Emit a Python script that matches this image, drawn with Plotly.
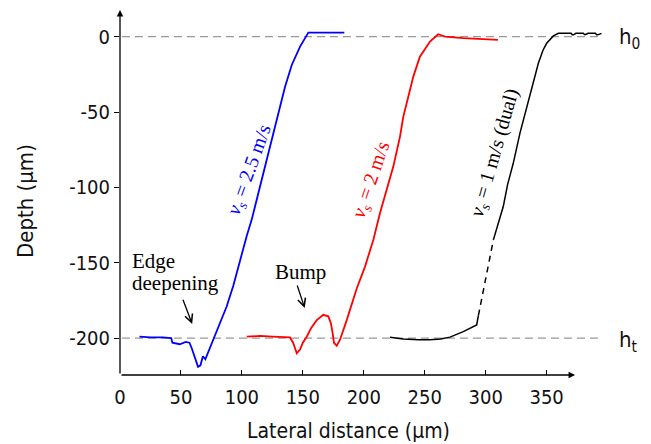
import plotly.graph_objects as go

# ---------------- data ----------------
blue_x = [16, 25, 35, 42, 43, 49, 54, 57, 59, 62, 64, 66, 68, 70, 72.5, 76.5, 82, 87.5, 93,
          98.4, 104, 108, 110.7, 117.6, 124.4, 131.3, 135.4, 140.9, 147.7, 154.5, 184]
blue_y = [-199, -199.5, -199.5, -200, -203, -204, -202.5, -203, -207, -214, -219, -218, -212,
          -214, -209, -200, -190, -179, -165, -148, -132, -121.5, -112.7, -90.4, -68.5, -46.4,
          -33.2, -18.8, -6.6, 2.7, 2.7]

red_x = [104, 115, 125, 139.5, 142, 145, 147.7, 150, 153.2, 157, 161.4, 166.8, 170.9, 173,
         174.5, 175.5, 177.8, 180.5, 186, 190, 194.2, 201, 207.8, 213.3, 218.8, 224.2, 229.7,
         232.4, 236.5, 240.6, 246, 254.3, 261, 266.6, 281.6, 295, 310]
red_y = [-199, -198.5, -199, -199.5, -203, -210, -207.5, -203, -199, -193, -188, -184.5,
         -185.5, -190, -197, -203, -205, -201, -188, -178, -167, -152.5, -134.8, -117, -101.7,
         -86.2, -66.3, -53, -39.8, -26.5, -13.3, -3.3, 1.6, 0, -1, -1.8, -2.2]

black_low_x = [221.5, 232.4, 245, 254.3, 263, 270.7, 281.6, 292.6, 294]
black_low_y = [-199.3, -200.5, -201, -201, -200.5, -199.3, -195.6, -191.2, -185]
black_gap_x = [294, 306.3]
black_gap_y = [-185, -134.8]
black_up_x = [306.3, 310, 314.4, 318, 322.6, 328.1, 333.6, 337.7, 343.2, 347, 350, 355.5,
              359.6, 370, 371, 372, 374, 380, 381, 382, 384, 390, 391, 392, 395]
black_up_y = [-134.8, -124, -112.7, -98, -84, -64, -46.4, -33.2, -17.6, -9, -4.4, 0.5,
              2.2, 2.2, 1.2, 1.2, 2.2, 2.2, 1.4, 1.4, 2.2, 2.2, 1.2, 1.2, 2.2]

x_ticks = [0, 50, 100, 150, 200, 250, 300, 350]
x_tick_text = ["0", "50", "100", "150", "200", "250", "300", "350"]
y_ticks = [-200, -150, -100, -50, 0]
y_tick_text = ["-200", "-150", "-100", "-50", "0"]
h0_level = 0
ht_level = -200

# ---------------- figure ----------------
SANS = "DejaVu Sans Condensed, DejaVu Sans, sans-serif"
SERIF = "Liberation Serif, Times New Roman, serif"
INK = "#111111"

fig = go.Figure()
fig.add_trace(go.Scatter(x=blue_x, y=blue_y, mode="lines",
                         line=dict(color="#0000ff", width=1.8)))
fig.add_trace(go.Scatter(x=red_x, y=red_y, mode="lines",
                         line=dict(color="#ff0000", width=1.8)))
fig.add_trace(go.Scatter(x=black_low_x, y=black_low_y, mode="lines",
                         line=dict(color="#000000", width=1.5)))
fig.add_trace(go.Scatter(x=black_gap_x, y=black_gap_y, mode="lines",
                         line=dict(color="#000000", width=1.5, dash="6px,5px")))
fig.add_trace(go.Scatter(x=black_up_x, y=black_up_y, mode="lines",
                         line=dict(color="#000000", width=1.5)))

# reference levels
for lvl in (h0_level, ht_level):
    fig.add_shape(type="line", x0=1.6, x1=394, y0=lvl, y1=lvl, xref="x", yref="y",
                  line=dict(color="#999999", width=1.3, dash="8px,5px"), layer="below")

ann = []
# axes drawn as arrows
ann.append(dict(x=373.3, y=-224.4, ax=0, ay=-224.4, xref="x", yref="y", axref="x", ayref="y",
                text="", showarrow=True, arrowhead=2, arrowsize=1, arrowwidth=1.3,
                arrowcolor="#000000"))
ann.append(dict(x=0, y=17.7, ax=0, ay=-224.4, xref="x", yref="y", axref="x", ayref="y",
                text="", showarrow=True, arrowhead=2, arrowsize=1, arrowwidth=1.3,
                arrowcolor="#000000"))
# axis titles (paper coordinates: they sit outside the plotting area)
ann.append(dict(x=0.4294, y=-0.1526, xref="paper", yref="paper", text="Lateral distance (µm)",
                showarrow=False, xanchor="center", yanchor="middle",
                font=dict(family=SANS, size=21, color=INK)))
ann.append(dict(x=-0.1789, y=0.474, xref="paper", yref="paper", text="Depth (µm)",
                showarrow=False, xanchor="center", yanchor="middle", textangle=-90,
                font=dict(family=SANS, size=22, color=INK)))
# level labels
ann.append(dict(x=407.7, y=-1, xref="x", yref="y", text="h<sub>0</sub>", showarrow=False,
                xanchor="left", yanchor="middle", font=dict(family=SANS, size=22, color=INK)))
ann.append(dict(x=407.7, y=-202, xref="x", yref="y", text="h<sub>t</sub>",
                showarrow=False, xanchor="left", yanchor="middle",
                font=dict(family=SANS, size=22, color=INK)))
# text annotations
ann.append(dict(x=8.2, y=-149, xref="x", yref="y", text="Edge", showarrow=False,
                xanchor="left", yanchor="middle", font=dict(family=SERIF, size=21, color="#000")))
ann.append(dict(x=8.2, y=-163.5, xref="x", yref="y", text="deepening", showarrow=False,
                xanchor="left", yanchor="middle", font=dict(family=SERIF, size=21, color="#000")))
ann.append(dict(x=125.6, y=-155.8, xref="x", yref="y", text="Bump", showarrow=False,
                xanchor="left", yanchor="middle", font=dict(family=SERIF, size=21, color="#000")))
ann.append(dict(x=59.2, y=-190.5, ax=51.2, ay=-173.5, xref="x", yref="y", axref="x", ayref="y",
                text="", showarrow=True, arrowhead=5, arrowsize=1.2, arrowwidth=1.3,
                arrowcolor="#000"))
ann.append(dict(x=151.5, y=-180, ax=145, ay=-164, xref="x", yref="y", axref="x", ayref="y",
                text="", showarrow=True, arrowhead=5, arrowsize=1.2, arrowwidth=1.3,
                arrowcolor="#000"))
# speed labels
ann.append(dict(x=106.6, y=-88, xref="x", yref="y", text="<i>v<sub>s</sub></i> = 2.5 m/s",
                showarrow=False, textangle=-70, font=dict(family=SERIF, size=20, color="#0000ff")))
ann.append(dict(x=206.7, y=-95, xref="x", yref="y", text="<i>v<sub>s</sub></i> = 2 m/s",
                showarrow=False, textangle=-71, font=dict(family=SERIF, size=20, color="#ff0000")))
ann.append(dict(x=308, y=-77, xref="x", yref="y", text="<i>v<sub>s</sub></i> = 1 m/s (dual)",
                showarrow=False, textangle=-74, font=dict(family=SERIF, size=20, color="#000000")))

# the page body has an 8 px margin, so the figure is 8 px smaller and shifted
fig.update_layout(
    width=643, height=436,
    margin=dict(l=112, r=0, t=0, b=69),
    paper_bgcolor="white", plot_bgcolor="white",
    showlegend=False,
    annotations=ann,
    xaxis=dict(range=[0, 435.6], tickvals=x_ticks, ticktext=x_tick_text, ticks="inside",
               ticklen=5, tickcolor="#000", tickwidth=1, showgrid=False, zeroline=False,
               showline=False, ticklabelstandoff=8,
               tickfont=dict(family=SANS, size=20, color=INK)),
    yaxis=dict(range=[-224.4, 19.0], tickvals=y_ticks, ticktext=y_tick_text, ticks="outside",
               ticklen=5, tickcolor="#000", tickwidth=1, showgrid=False, zeroline=False,
               showline=False, tickfont=dict(family=SANS, size=20, color=INK)),
)

fig.write_html("out.html")
